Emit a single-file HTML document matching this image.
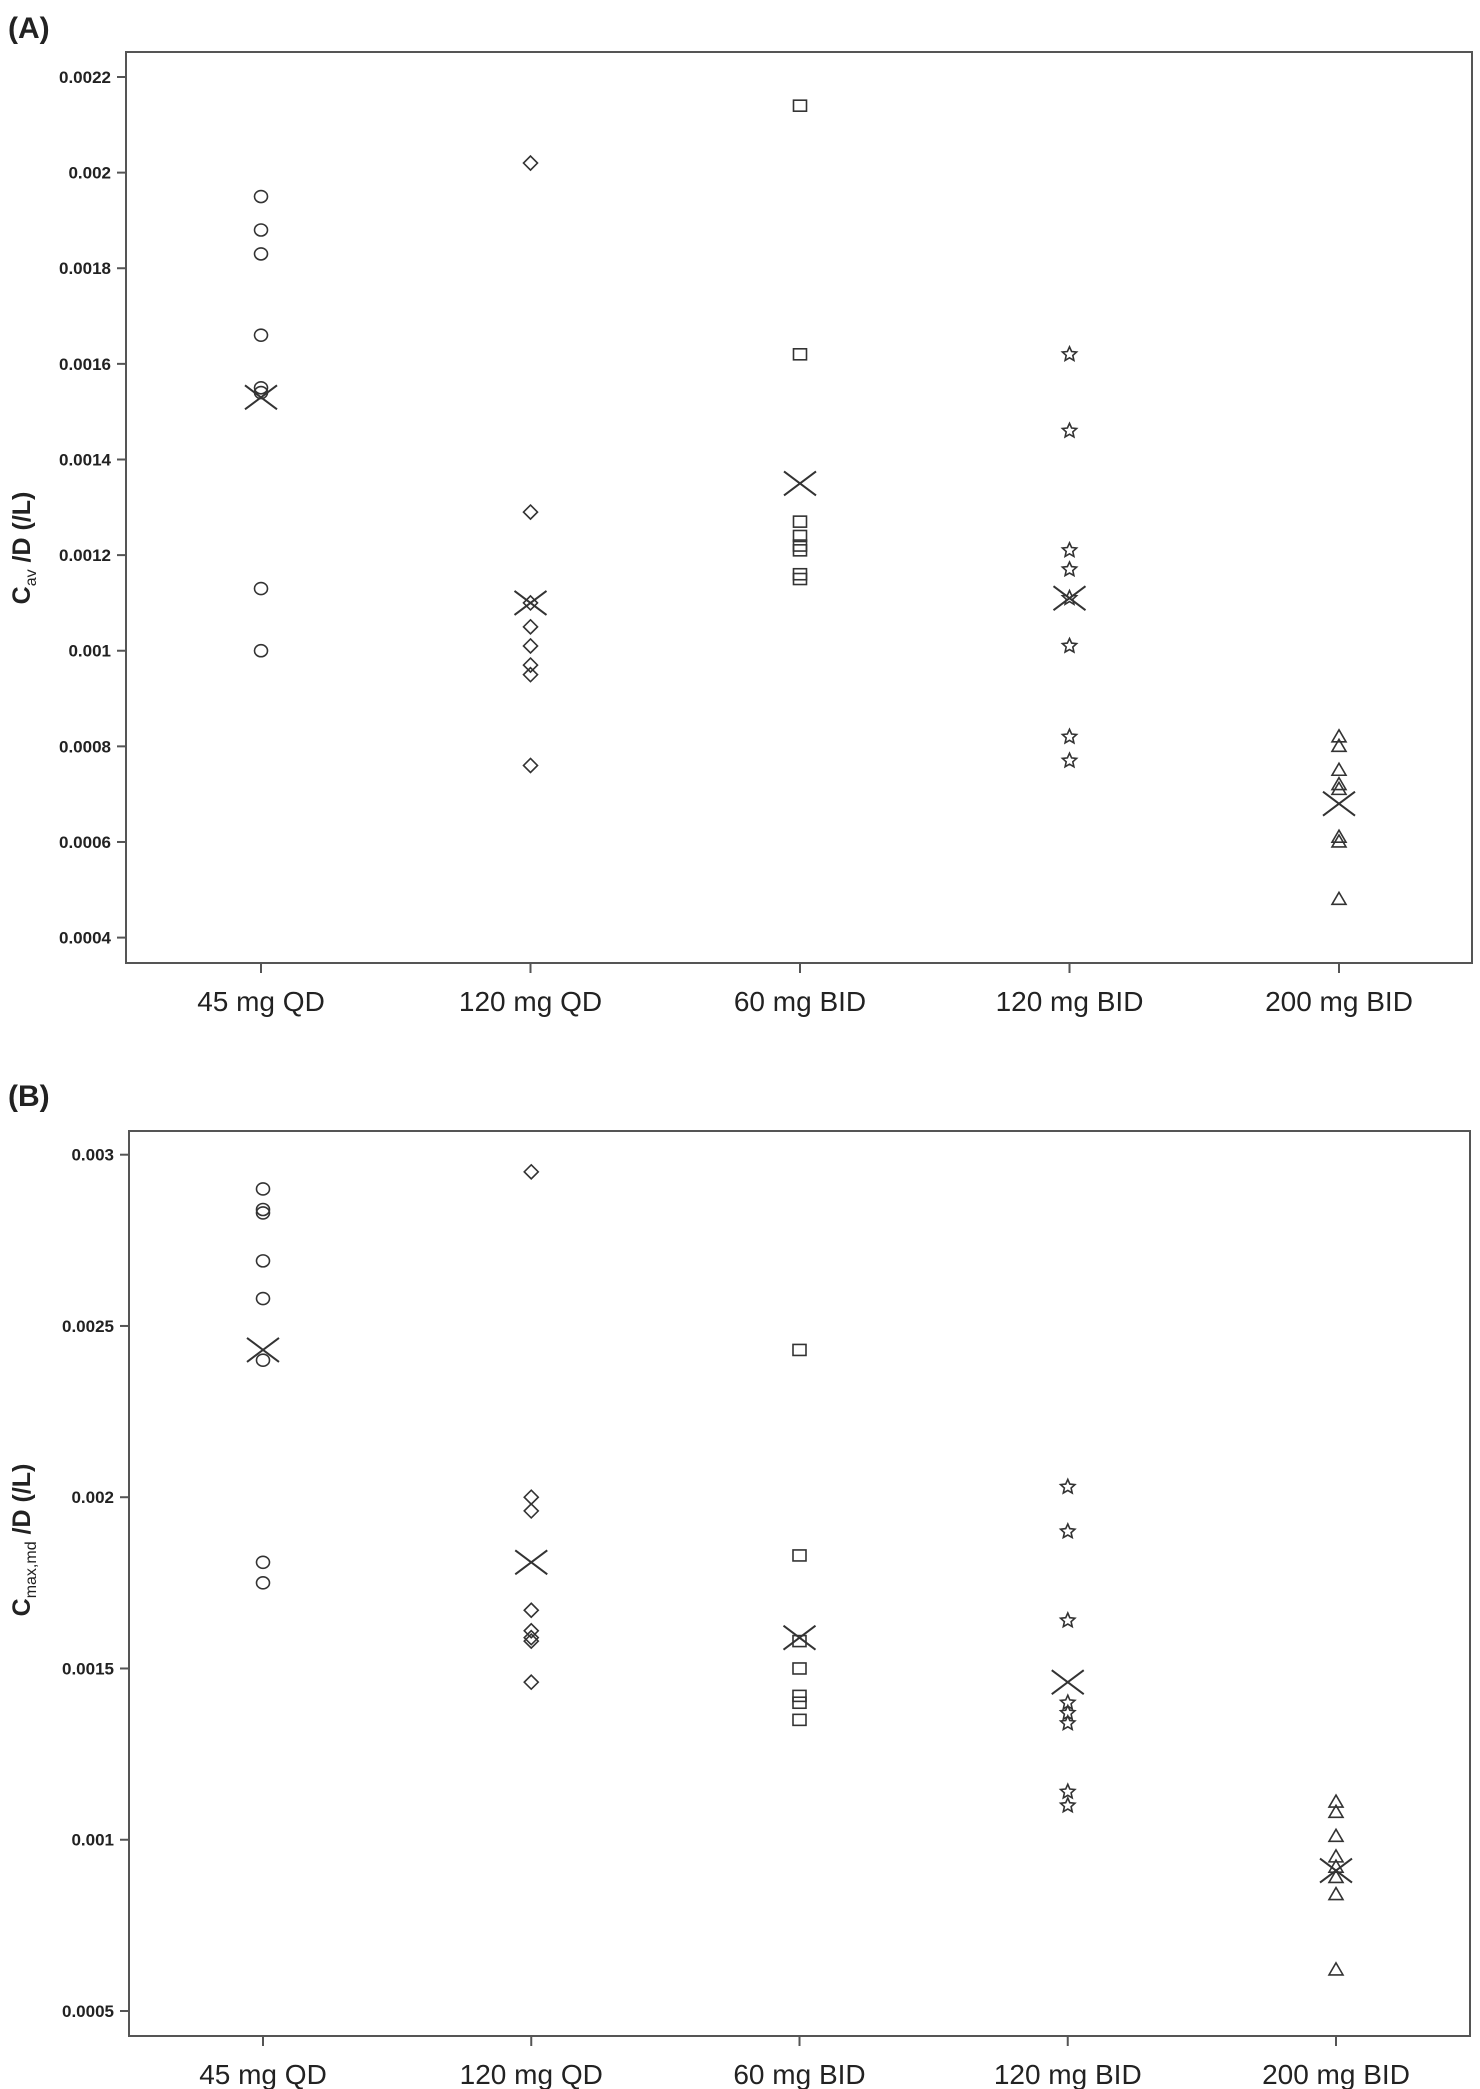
<!DOCTYPE html>
<html><head><meta charset="utf-8">
<style>
html,body{margin:0;padding:0;background:#fff;}
svg{display:block;}
text{font-family:"Liberation Sans",sans-serif;fill:#222;}
</style></head>
<body>
<svg id="fig" width="1480" height="2089" viewBox="0 0 1480 2089" xmlns="http://www.w3.org/2000/svg"></svg>
<script>
const categories = ["45 mg QD","120 mg QD","60 mg BID","120 mg BID","200 mg BID"];
const markerShapes = ["circle","diamond","square","star","triangle"];
// Panel A values (Cav/D)
const aQD45 = [0.00195,0.00188,0.00183,0.00166,0.00155,0.00154,0.00113,0.00100];
const aQD120 = [0.00202,0.00129,0.00110,0.00105,0.00101,0.00097,0.00095,0.00076];
const aBID60 = [0.00214,0.00162,0.00127,0.00124,0.00122,0.00121,0.00116,0.00115];
const aBID120 = [0.00162,0.00146,0.00121,0.00117,0.00111,0.00101,0.00082,0.00077];
const aBID200 = [0.00082,0.00080,0.00075,0.00072,0.00071,0.00061,0.00060,0.00048];
const aMeans = [0.00153,0.00110,0.00135,0.00111,0.00068];
const aTicks = [0.0004,0.0006,0.0008,0.001,0.0012,0.0014,0.0016,0.0018,0.002,0.0022];
const aTickLabels = ["0.0004","0.0006","0.0008","0.001","0.0012","0.0014","0.0016","0.0018","0.002","0.0022"];
// Panel B values (Cmax,md/D)
const bQD45 = [0.00290,0.00284,0.00283,0.00269,0.00258,0.00240,0.00181,0.00175];
const bQD120 = [0.00295,0.00200,0.00196,0.00167,0.00161,0.00159,0.00158,0.00146];
const bBID60 = [0.00243,0.00183,0.00158,0.00150,0.00142,0.00140,0.00135];
const bBID120 = [0.00203,0.00190,0.00164,0.00140,0.00137,0.00134,0.00114,0.00110];
const bBID200 = [0.00111,0.00108,0.00101,0.00095,0.00092,0.00089,0.00084,0.00062];
const bMeans = [0.00243,0.00181,0.00159,0.00146,0.00091];
const bTicks = [0.0005,0.001,0.0015,0.002,0.0025,0.003];
const bTickLabels = ["0.0005","0.001","0.0015","0.002","0.0025","0.003"];

const NS="http://www.w3.org/2000/svg";
const svg=document.getElementById('fig');
function mk(tag,attrs,parent){const e=document.createElementNS(NS,tag);for(const k in attrs)e.setAttribute(k,attrs[k]);(parent||svg).appendChild(e);return e;}

function marker(g,shape,x,y){
  const st={fill:"none",stroke:"#333","stroke-width":1.6};
  let e;
  if(shape==="circle"){e=mk('ellipse',Object.assign({cx:x,cy:y,rx:6.5,ry:6},st),g);}
  else if(shape==="diamond"){e=mk('polygon',Object.assign({points:`${x},${y-7} ${x+7},${y} ${x},${y+7} ${x-7},${y}`},st),g);}
  else if(shape==="square"){e=mk('rect',Object.assign({x:x-6.5,y:y-5.5,width:13,height:11},st),g);}
  else if(shape==="star"){let p=[];for(let i=0;i<10;i++){const r=i%2?3.5:7.5;const a=-Math.PI/2+i*Math.PI/5;p.push((x+r*Math.cos(a)).toFixed(1)+","+(y+r*Math.sin(a)).toFixed(1));}e=mk('polygon',Object.assign({points:p.join(' ')},st),g);}
  else {e=mk('polygon',Object.assign({points:`${x},${y-7} ${x+7},${y+5} ${x-7},${y+5}`},st),g);}
  
  
}
function meanX(g,x,y){
  const e=mk('path',{d:`M${x-16},${y-12}L${x+16},${y+12}M${x-16},${y+12}L${x+16},${y-12}`,stroke:"#333","stroke-width":2,fill:"none"},g);
  
  
}

function panel(cfg){
  const g=mk('g',{});
  
  
  const yScale=v=>cfg.y0px+(v-cfg.v0)*(cfg.y1px-cfg.y0px)/(cfg.v1-cfg.v0);
  const xScale=i=>cfg.cx[0]+i*(cfg.cx[4]-cfg.cx[0])/4;
  const lbl=mk('text',{x:cfg.lx,y:cfg.ly,'font-size':30,'font-weight':'bold'},g);lbl.textContent=cfg.label;
  
  const box=mk('rect',{x:cfg.L,y:cfg.T,width:cfg.R-cfg.L,height:cfg.B-cfg.T,fill:"none",stroke:"#555","stroke-width":2},g);
  
  cfg.ticks.forEach((t,i)=>{
    const y=yScale(t);
    const tk=mk('line',{x1:cfg.L-9,x2:cfg.L,y1:y,y2:y,stroke:"#555","stroke-width":2},g);
    
    const tx=mk('text',{x:cfg.L-15,y:y+6,'font-size':17,'font-weight':'bold','text-anchor':'end'},g);
    tx.textContent=cfg.tickLabels[i];
    
  });
  categories.forEach((c,i)=>{
    const x=xScale(i);
    const tk=mk('line',{x1:x,x2:x,y1:cfg.B,y2:cfg.B+10,stroke:"#555","stroke-width":2},g);
    
    const tx=mk('text',{x:x,y:cfg.B+48,'font-size':28,'text-anchor':'middle'},g);
    tx.textContent=c;
    
    cfg.series[i].forEach(v=>marker(g,markerShapes[i],x,yScale(v)));
    meanX(g,x,yScale(cfg.means[i]));
  });
  const yt=mk('text',{transform:`translate(${cfg.tx},${cfg.ty}) rotate(-90)`,'font-size':25,'font-weight':'bold','text-anchor':'middle'},g);
  
  const t1=mk('tspan',{},yt);t1.textContent="C";
  const t2=mk('tspan',{'font-size':16,'font-weight':'normal',dy:6},yt);t2.textContent=cfg.sub;
  const t3=mk('tspan',{dy:-6},yt);t3.textContent=" /D (/L)";
}

panel({name:'panel-a',label:'(A)',lx:8,ly:38,L:126,R:1472,T:52,B:963,v0:0.0022,y0px:77,v1:0.0004,y1px:937.6,
  cx:[261,530,800,1070,1339],ticks:aTicks,tickLabels:aTickLabels,series:[aQD45,aQD120,aBID60,aBID120,aBID200],means:aMeans,
  tx:30,ty:548,sub:'av'});
panel({name:'panel-b',label:'(B)',lx:8,ly:1106,L:129,R:1470,T:1131,B:2036,v0:0.003,y0px:1154.7,v1:0.0005,y1px:2011,
  cx:[263,531,800,1069,1336],ticks:bTicks,tickLabels:bTickLabels,series:[bQD45,bQD120,bBID60,bBID120,bBID200],means:bMeans,
  tx:30,ty:1540,sub:'max,md'});
</script>
</body></html>
